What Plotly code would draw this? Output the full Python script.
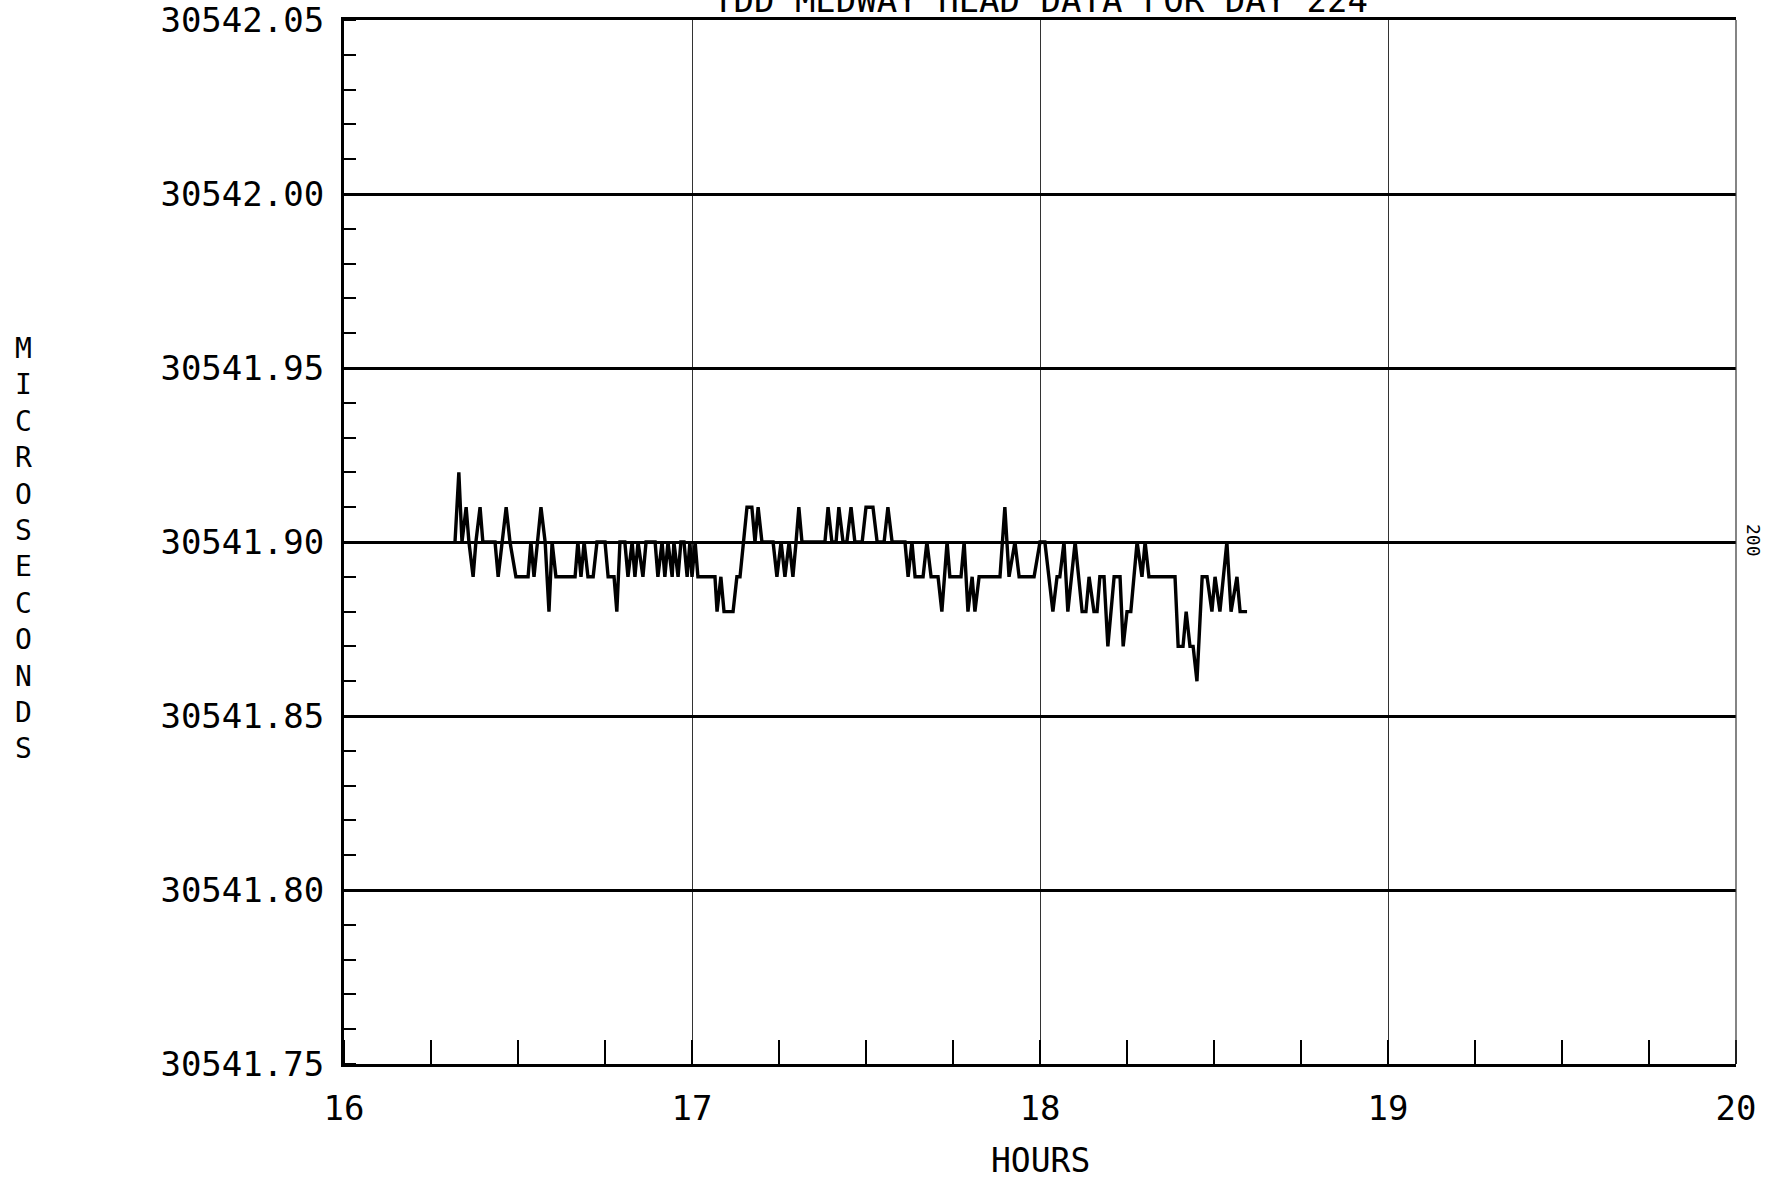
import plotly.graph_objects as go

# ---- data ----
hours = [16.319, 16.330, 16.339, 16.351, 16.359, 16.371, 16.379, 16.391, 16.399, 16.434,
         16.443, 16.454, 16.466, 16.477, 16.494, 16.529, 16.537, 16.546, 16.557, 16.566,
         16.578, 16.589, 16.598, 16.609, 16.664, 16.672, 16.681, 16.690, 16.701, 16.716,
         16.727, 16.750, 16.759, 16.776, 16.784, 16.793, 16.807, 16.816, 16.828, 16.836,
         16.845, 16.859, 16.868, 16.894, 16.902, 16.914, 16.922, 16.931, 16.943, 16.948,
         16.960, 16.968, 16.977, 16.986, 16.994, 17.000, 17.009, 17.017, 17.066, 17.072,
         17.083, 17.092, 17.118, 17.129, 17.138, 17.147, 17.158, 17.172, 17.181, 17.190,
         17.201, 17.233, 17.244, 17.256, 17.267, 17.279, 17.290, 17.299, 17.307, 17.316,
         17.382, 17.391, 17.402, 17.414, 17.422, 17.434, 17.445, 17.457, 17.468, 17.489,
         17.500, 17.520, 17.532, 17.552, 17.563, 17.575, 17.612, 17.621, 17.632, 17.641,
         17.664, 17.675, 17.687, 17.707, 17.718, 17.733, 17.741, 17.773, 17.782, 17.793,
         17.805, 17.813, 17.825, 17.885, 17.899, 17.911, 17.928, 17.940, 17.983, 18.000,
         18.014, 18.037, 18.049, 18.057, 18.069, 18.080, 18.101, 18.121, 18.132, 18.141,
         18.155, 18.164, 18.172, 18.184, 18.195, 18.213, 18.230, 18.239, 18.250, 18.261,
         18.279, 18.293, 18.302, 18.313, 18.388, 18.397, 18.411, 18.420, 18.431, 18.440,
         18.451, 18.466, 18.480, 18.494, 18.503, 18.517, 18.537, 18.549, 18.566, 18.575,
         18.595]

microseconds = [30541.90, 30541.92, 30541.90, 30541.91, 30541.90, 30541.89, 30541.90, 30541.91, 30541.90, 30541.90,
                30541.89, 30541.90, 30541.91, 30541.90, 30541.89, 30541.89, 30541.90, 30541.89, 30541.90, 30541.91,
                30541.90, 30541.88, 30541.90, 30541.89, 30541.89, 30541.90, 30541.89, 30541.90, 30541.89, 30541.89,
                30541.90, 30541.90, 30541.89, 30541.89, 30541.88, 30541.90, 30541.90, 30541.89, 30541.90, 30541.89,
                30541.90, 30541.89, 30541.90, 30541.90, 30541.89, 30541.90, 30541.89, 30541.90, 30541.89, 30541.90,
                30541.89, 30541.90, 30541.90, 30541.89, 30541.90, 30541.89, 30541.90, 30541.89, 30541.89, 30541.88,
                30541.89, 30541.88, 30541.88, 30541.89, 30541.89, 30541.90, 30541.91, 30541.91, 30541.90, 30541.91,
                30541.90, 30541.90, 30541.89, 30541.90, 30541.89, 30541.90, 30541.89, 30541.90, 30541.91, 30541.90,
                30541.90, 30541.91, 30541.90, 30541.90, 30541.91, 30541.90, 30541.90, 30541.91, 30541.90, 30541.90,
                30541.91, 30541.91, 30541.90, 30541.90, 30541.91, 30541.90, 30541.90, 30541.89, 30541.90, 30541.89,
                30541.89, 30541.90, 30541.89, 30541.89, 30541.88, 30541.90, 30541.89, 30541.89, 30541.90, 30541.88,
                30541.89, 30541.88, 30541.89, 30541.89, 30541.91, 30541.89, 30541.90, 30541.89, 30541.89, 30541.90,
                30541.90, 30541.88, 30541.89, 30541.89, 30541.90, 30541.88, 30541.90, 30541.88, 30541.88, 30541.89,
                30541.88, 30541.88, 30541.89, 30541.89, 30541.87, 30541.89, 30541.89, 30541.87, 30541.88, 30541.88,
                30541.90, 30541.89, 30541.90, 30541.89, 30541.89, 30541.87, 30541.87, 30541.88, 30541.87, 30541.87,
                30541.86, 30541.89, 30541.89, 30541.88, 30541.89, 30541.88, 30541.90, 30541.88, 30541.89, 30541.88,
                30541.88]

y_tick_values = [30541.75, 30541.80, 30541.85, 30541.90, 30541.95, 30542.00, 30542.05]
y_tick_labels = ["30541.75", "30541.80", "30541.85", "30541.90", "30541.95", "30542.00", "30542.05"]
x_tick_values = [16, 17, 18, 19, 20]
x_tick_labels = ["16", "17", "18", "19", "20"]

title_text = "TDD MEDWAY HEAD DATA FOR DAY 224"
x_title = "HOURS"
y_title = "MICROSECONDS"
side_label = "200"

x_range = [16, 20]
y_range = [30541.75, 30542.05]

FONT = "DejaVu Sans Mono"

fig = go.Figure()
fig.add_trace(go.Scatter(x=hours, y=microseconds, mode="lines",
                         line=dict(color="black", width=3.4), showlegend=False,
                         hoverinfo="skip"))

fig.update_layout(
    width=1771, height=1181,
    margin=dict(l=344, r=35, t=20, b=117, autoexpand=False),
    paper_bgcolor="white", plot_bgcolor="white",
    font=dict(family=FONT, color="black"),
    xaxis=dict(range=x_range, tickmode="array", tickvals=x_tick_values,
               ticktext=x_tick_labels, showgrid=True, gridcolor="#333",
               gridwidth=1.2, zeroline=False, showline=True, linecolor="black",
               linewidth=3, mirror=True, ticks="", ticklabelstandoff=12,
               ticklabeloverflow="allow", automargin=False,
               tickfont=dict(family=FONT, size=34, color="black"),
               minor=dict(tick0=16, dtick=0.25, ticks="inside", ticklen=24,
                          tickwidth=2, tickcolor="black", showgrid=False)),
    yaxis=dict(range=y_range, tickmode="array", tickvals=y_tick_values,
               ticktext=y_tick_labels,
               showgrid=True, gridcolor="black", gridwidth=2.5, zeroline=False,
               showline=True, linecolor="black", linewidth=3, ticks="",
               ticklabelstandoff=10, ticklabeloverflow="allow", automargin=False,
               tickfont=dict(family=FONT, size=34, color="black"),
               minor=dict(tick0=30541.75, dtick=0.01, ticks="inside", ticklen=12,
                          tickwidth=2, tickcolor="black", showgrid=False)),
    shapes=[dict(type="line", xref="paper", yref="paper", x0=1, x1=1, y0=0, y1=1,
                 line=dict(color="#333", width=1.2))],
    annotations=[
        dict(text=title_text, xref="paper", yref="paper", x=0.5, y=1,
             xanchor="center", yanchor="bottom", yshift=-2, showarrow=False,
             font=dict(family=FONT, size=34, color="black")),
        dict(text=x_title, xref="paper", yref="paper", x=0.5, y=-0.092,
             xanchor="center", yanchor="middle", showarrow=False,
             font=dict(family=FONT, size=33, color="black")),
        dict(text="<br>".join(list(y_title)), xref="paper", yref="paper",
             x=-0.2306, y=0.4933, xanchor="center", yanchor="middle",
             align="center", showarrow=False,
             font=dict(family=FONT, size=28, color="black")),
        dict(text=side_label, xref="paper", yref="paper", x=1.0122, y=0.501,
             xanchor="center", yanchor="middle", textangle=90, showarrow=False,
             font=dict(family=FONT, size=18, color="black")),
    ],
)

fig.write_html("out.html", config={"displayModeBar": False},
               post_script="document.body.style.margin='0';document.body.style.overflow='hidden';")
